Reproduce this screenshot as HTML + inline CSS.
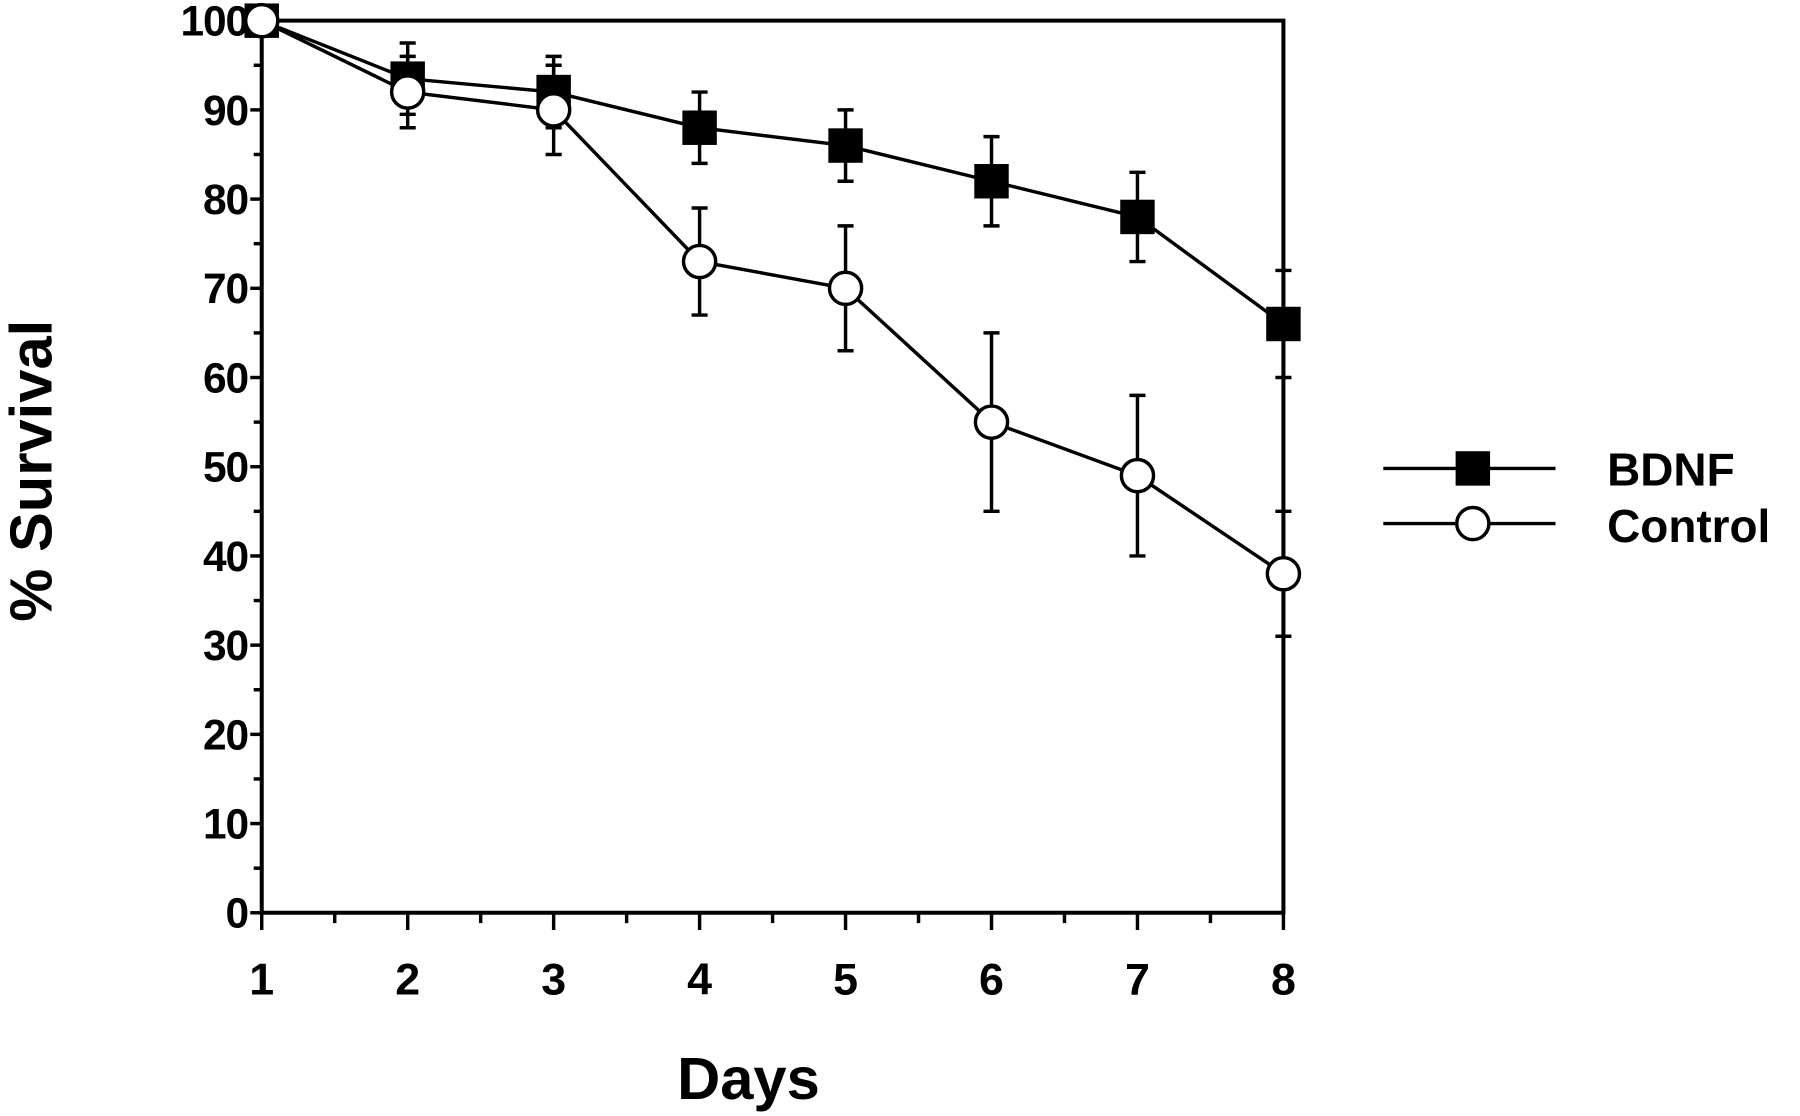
<!DOCTYPE html>
<html><head><meta charset="utf-8"><style>
html,body{margin:0;padding:0;background:#fff;}
svg{display:block;}
text{font-family:"Liberation Sans",Arial,sans-serif;font-weight:bold;fill:#000;}
</style></head><body>
<svg id="chart" width="1800" height="1116" viewBox="0 0 1568 972" preserveAspectRatio="none" xmlns="http://www.w3.org/2000/svg"></svg>
<script>
const days = [1,2,3,4,5,6,7,8];
const bdnfValues = [100,93.5,92,88,86,82,78,66];
const bdnfErrors = [0,4,4,4,4,5,5,6];
const controlValues = [100,92,90,73,70,55,49,38];
const controlErrors = [0,4,5,6,7,10,9,7];
const yTicks = [0,10,20,30,40,50,60,70,80,90,100];
const xTickLabels = ["1","2","3","4","5","6","7","8"];

const svg = document.getElementById('chart');
const NS = 'http://www.w3.org/2000/svg';
const L=228,R=1118,T=18,B=795;
const xs = d => L + (d-1)*(R-L)/7;
const ys = v => B - v*(B-T)/100;
function mk(tag, attrs, parent){
  const e=document.createElementNS(NS,tag);
  for(const k in attrs) e.setAttribute(k,attrs[k]);
  (parent||svg).appendChild(e); return e;
}
const axes = mk('g',{});


let ax = mk('path',{d:`M${L} ${T} H${R} V${B} H${L} Z`,fill:'none',stroke:'#000','stroke-width':3.5},axes);


for(let v=0; v<=100; v+=5){
  const major = v%10===0;
  mk('line',{x1:L-(major?10:7),x2:L,y1:ys(v),y2:ys(v),stroke:'#000','stroke-width':3},axes);
}
yTicks.forEach(v=>{
  const t=mk('text',{x:L-12,y:ys(v)+13,'text-anchor':'end','font-size':37,'letter-spacing':-1},axes);
  t.textContent=v;
  
  
});
for(let d=1; d<=8; d+=0.5){
  const major = Number.isInteger(d);
  mk('line',{x1:xs(d),x2:xs(d),y1:B,y2:B+(major?15:9),stroke:'#000','stroke-width':3},axes);
}
days.forEach((d,i)=>{
  const t=mk('text',{x:xs(d),y:866,'text-anchor':'middle','font-size':39},axes);
  t.textContent=xTickLabels[i];
  
  
});
let xt=mk('text',{x:652,y:957,'text-anchor':'middle','font-size':52});
xt.textContent='Days';


let yt=mk('text',{x:0,y:0,'text-anchor':'middle','font-size':52,transform:'translate(45,410) rotate(-90)'});
yt.textContent='% Survival';



function series(vals, errs, name, filled){
  const g=mk('g',{});
  
  
  vals.forEach((v,i)=>{
    if(errs[i]>0){
      const x=xs(days[i]);
      mk('path',{d:`M${x} ${ys(v+errs[i])} V${ys(v-errs[i])} M${x-7} ${ys(v+errs[i])} H${x+7} M${x-7} ${ys(v-errs[i])} H${x+7}`,stroke:'#000','stroke-width':3,fill:'none'},g);
    }
  });
  const ln=mk('polyline',{points:vals.map((v,i)=>xs(days[i])+','+ys(v)).join(' '),fill:'none',stroke:'#000','stroke-width':3},g);
  
  
  vals.forEach((v,i)=>{
    let m;
    if(filled) m=mk('rect',{x:xs(days[i])-15,y:ys(v)-15,width:30,height:30,fill:'#000'},g);
    else m=mk('circle',{cx:xs(days[i]),cy:ys(v),r:14,fill:'#fff',stroke:'#000','stroke-width':3},g);
    
    
  });
}
series(bdnfValues,bdnfErrors,'bdnf',true);
series(controlValues,controlErrors,'control',false);

const lg=mk('g',{});


const e1=mk('g',{},lg);


mk('line',{x1:1205,x2:1355,y1:408,y2:408,stroke:'#000','stroke-width':3},e1);
mk('rect',{x:1268,y:393,width:30,height:30,fill:'#000'},e1);
let t1=mk('text',{x:1400,y:423,'font-size':40},e1); t1.textContent='BDNF';
const e2=mk('g',{},lg);


mk('line',{x1:1205,x2:1355,y1:456,y2:456,stroke:'#000','stroke-width':3},e2);
mk('circle',{cx:1283,cy:456,r:14,fill:'#fff',stroke:'#000','stroke-width':3},e2);
let t2=mk('text',{x:1400,y:472,'font-size':40},e2); t2.textContent='Control';
</script>
</body></html>
